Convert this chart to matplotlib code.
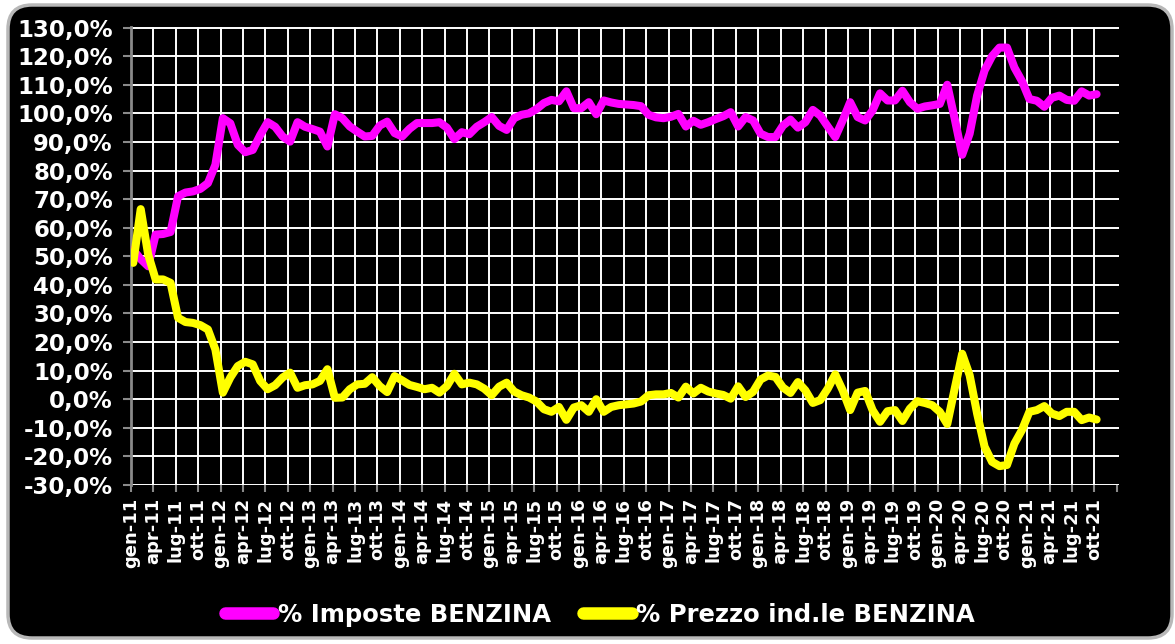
import numpy as np
import matplotlib
matplotlib.use('Agg')
import matplotlib.pyplot as plt
from matplotlib.patches import FancyBboxPatch
from matplotlib.transforms import IdentityTransform

# ---- data (monthly, gen-11 .. ott-21) ----
imposte = [52.3, 49.0, 46.5, 57.6, 57.8, 58.5, 71.0, 72.3, 72.7, 73.6,
           75.6, 82.0, 98.3, 96.5, 89.0, 86.4, 87.2, 92.4, 96.9, 95.3,
           91.9, 90.1, 96.9, 95.3, 94.5, 93.6, 88.4, 99.7, 98.3, 95.4,
           93.6, 91.9, 92.1, 95.7, 97.1, 93.1, 91.9, 94.6, 96.6, 96.6,
           96.6, 96.9, 95.0, 91.0, 93.4, 92.7, 95.3, 96.9, 98.7, 95.6,
           94.2, 98.3, 99.5, 100.0, 101.5, 103.6, 104.7, 104.2, 107.7, 101.8,
           101.8, 103.9, 99.7, 104.5, 103.8, 103.3, 103.1, 102.9, 102.5, 99.5,
           98.6, 98.3, 98.8, 99.8, 95.4, 97.4, 96.0, 96.9, 98.0, 99.0,
           100.4, 95.4, 98.7, 97.5, 92.9, 91.7, 91.7, 95.7, 97.8, 95.0,
           96.9, 101.2, 99.2, 95.4, 91.7, 97.5, 103.9, 98.7, 97.5, 101.0,
           107.0, 104.5, 104.5, 107.9, 103.9, 101.6, 102.4, 102.8, 103.3, 110.0,
           98.1, 85.5, 92.9, 106.2, 115.0, 120.0, 123.0, 123.0, 116.0, 111.3,
           105.0, 104.4, 102.3, 105.4, 106.2, 104.7, 104.4, 107.7, 106.2, 106.7]

prezzo = [47.7, 66.5, 50.6, 41.9, 41.9, 40.7, 28.5, 27.0, 26.7, 25.9,
          24.4, 17.4, 2.3, 7.6, 11.6, 13.1, 12.2, 6.4, 3.5, 4.9,
          7.6, 9.3, 4.0, 4.9, 5.2, 6.4, 10.5, 0.5, 0.6, 3.5,
          5.2, 5.4, 7.7, 4.6, 2.5, 8.1, 6.6, 5.0, 4.3, 3.5,
          4.0, 2.3, 4.6, 8.9, 5.2, 5.8, 5.2, 3.7, 1.4, 4.4,
          5.8, 2.7, 1.4, 0.6, -0.8, -3.5, -4.4, -2.7, -7.2, -2.9,
          -2.1, -4.4, 0.0, -4.4, -2.7, -2.1, -1.8, -1.5, -0.8, 1.4,
          1.7, 1.7, 2.2, 0.6, 4.4, 2.0, 4.0, 2.7, 2.0, 1.5,
          0.2, 4.5, 0.8, 2.6, 6.9, 8.3, 7.8, 4.1, 2.2, 6.0,
          3.1, -1.3, -0.3, 3.7, 8.7, 3.1, -3.8, 2.3, 2.9, -3.8,
          -7.9, -4.2, -3.8, -7.6, -3.3, -0.7, -1.3, -2.1, -4.4, -8.7,
          3.7, 15.9, 8.4, -5.0, -16.6, -21.9, -23.4, -23.0, -15.5, -10.8,
          -4.4, -3.8, -2.4, -5.0, -5.9, -4.4, -4.4, -7.3, -6.4, -7.1]

mesi = ['gen', 'apr', 'lug', 'ott']
anni = ['11', '12', '13', '14', '15', '16', '17', '18', '19', '20', '21']
tick_labels = [f'{m}-{a}' for a in anni for m in mesi]
yticks = list(range(-30, 140, 10))
series_names = ['% Imposte BENZINA', '% Prezzo ind.le BENZINA']
colors = ['#FF00FF', '#FFFF00']

W, H = 1175, 644
fig = plt.figure(figsize=(W / 100, H / 100), dpi=100, facecolor='white')

panel = FancyBboxPatch((8, 6), 1164, 633,
                       boxstyle='round,pad=0,rounding_size=24',
                       transform=IdentityTransform(), facecolor='black',
                       edgecolor='#b8b8b8', lw=2.5, zorder=-10)
fig.patches.append(panel)

ax = fig.add_axes([131 / W, 1 - 485 / H, (1119 - 131) / W, (485 - 27) / H])
ax.set_facecolor('black')

x = np.arange(len(imposte))
l1, = ax.plot(x, imposte, color=colors[0], lw=5.8, solid_joinstyle='round',
              solid_capstyle='round', label=series_names[0], zorder=3)
l2, = ax.plot(x, prezzo, color=colors[1], lw=5.8, solid_joinstyle='round',
              solid_capstyle='round', label=series_names[1], zorder=4)

off = 0.3
ax.set_xlim(-off, 132.3 - off)
ax.set_ylim(-30, 130.2)
ax.set_yticks(yticks)
ax.set_yticklabels([f'{v},0%' for v in yticks])
ax.set_xticks([3 * k - off for k in range(len(tick_labels))])
ax.set_xticklabels(tick_labels, rotation=90)
ax.set_xticks([132 - off], minor=True)

ax.grid(True, which='major', color='white', lw=1.4)
ax.set_axisbelow(True)

for s in ['top', 'right', 'bottom']:
    ax.spines[s].set_visible(False)
ax.spines['left'].set_color('#8a8a8a')
ax.spines['left'].set_linewidth(2)

ax.tick_params(axis='y', colors='#8a8a8a', labelcolor='white', length=6,
               width=1.5, pad=7, labelsize=16.5)
ax.tick_params(axis='x', which='both', colors='#8a8a8a', labelcolor='white',
               length=5, width=1.5, pad=4, labelsize=13)
for t in ax.get_yticklabels() + ax.get_xticklabels():
    t.set_fontweight('bold')

leg = fig.legend(handles=[l1, l2], loc='center',
                 bbox_to_anchor=(600 / W, 1 - 615 / H), ncol=2,
                 frameon=False, prop=dict(weight='bold', size=17.5),
                 labelcolor='white', handlelength=2.0, handletextpad=0.2,
                 columnspacing=1.3)
for h in leg.legend_handles:
    h.set_linewidth(9)

fig.savefig('out.png', dpi=100, facecolor='white')
